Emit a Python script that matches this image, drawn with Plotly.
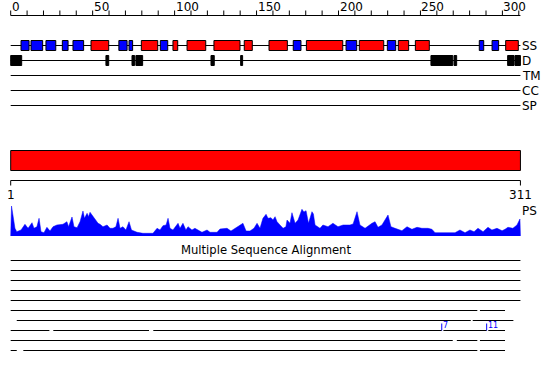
import plotly.graph_objects as go

# ---------------- data ----------------
SEQ_LEN = 311
axis_tick_pos = list(range(0, 311, 10))
axis_label_pos = [0, 50, 100, 150, 200, 250, 300]
axis_label_text = ["0", "50", "100", "150", "200", "250", "300"]

track_names = ["SS", "D", "TM", "CC", "SP"]

helix_start = [49, 79.7, 99, 107.6, 124, 142.5, 157.6, 180.4, 212.7, 236.5, 246.9, 302]
helix_end = [59.8, 89.7, 101.9, 119, 139.9, 147.4, 168.8, 202.6, 227.6, 242.8, 255.4, 309.7]
strand_start = [6.3, 12.4, 21.5, 31.5, 38, 66, 72.2, 91.3, 172.4, 204.6, 229.8, 285.9, 293.7]
strand_end = [11.2, 19.5, 27.5, 35, 44.5, 71, 74.4, 95.8, 177.1, 211.1, 234.9, 288.6, 297.7]

disorder_start = [0, 58.1, 74, 76.4, 122.2, 140.3, 256.4, 270.5, 303.2, 307.7]
disorder_end = [6.7, 59.8, 75.6, 80.5, 124.2, 141.5, 269.7, 272.1, 307.1, 311]

domain_start = [0]
domain_end = [311]
domain_labels = ["1", "311"]

ps_pos = [0, 0.5, 2.6, 3.7, 6.3, 8.7, 10.6, 13.0, 14.2, 16.0, 17.3, 18.5, 20.3, 22.1, 24.0,
          25.8, 28.2, 30.7, 31.9, 34.3, 35.3, 37.4, 38.6, 40.5, 42.3, 44.1, 45.0, 46.6, 47.5,
          48.4, 50.2, 51.4, 53.3, 54.5, 56.3, 58.8, 60.6, 62.4, 64.2, 65.5, 66.7, 68.5, 70.3,
          72.2, 73.7, 77.1, 80.7, 86.8, 89.3, 91.1, 92.9, 94.8, 96.0, 97.2, 99.0, 102.1, 103.3,
          105.1, 106.9, 108.2, 110.6, 112.4, 116.7, 119.8, 121.6, 125.9, 127.7, 132.0, 134.4,
          136.9, 139.9, 141.7, 143.6, 146.0, 148.4, 150.3, 152.1, 153.9, 155.8, 157.0, 158.8,
          160.0, 161.3, 162.5, 164.3, 166.2, 167.9, 168.6, 170.4, 171.6, 173.5, 175.3, 177.7,
          178.9, 180.2, 181.7, 183.8, 184.7, 185.7, 188.7, 190.5, 193.6, 196.6, 199.7, 202.8,
          204.0, 207.0, 208.9, 211.3, 213.1, 216.2, 220.4, 222.3, 224.1, 226.5, 230.2, 232.0,
          234.5, 238.7, 241.8, 244.8, 247.9, 250.9, 254.6, 257.0, 258.9, 263.1, 271.1, 274.1,
          277.2, 280.2, 282.7, 285.1, 288.2, 291.2, 293.6, 296.7, 299.8, 301.6, 303.4, 306.4,
          308.9, 310.7, 311]
ps_val = [0, 30, 7.7, 4.3, 6, 11.7, 7.7, 13.3, 7.7, 9.3, 17.7, 4.3, 3.3, 8.7, 5,
          9.3, 11, 11, 11.7, 14.3, 9.3, 19, 9.3, 8.3, 14.3, 25, 17.7, 22.7, 19.3,
          23.7, 20.3, 17, 12.7, 11.7, 9.3, 11, 7.7, 7.7, 9.3, 17.7, 7.7, 9.3, 6,
          14.3, 6, 3.7, 2.7, 2.7, 7.7, 6, 10.3, 11, 17.7, 7.7, 6, 12.7, 7.7,
          12.7, 6, 9.3, 6, 7.7, 3.7, 6, 3.7, 3.7, 7, 7.7, 5,
          7.7, 10.3, 12.7, 5, 5, 7.7, 12.7, 7.7, 17.7, 21.7, 17.7, 18.3,
          16, 19.3, 14.3, 11, 7.7, 9.3, 16, 12.7, 23.3, 12.7, 16, 26.7,
          24, 25.3, 12.7, 24.3, 22, 11, 7.7, 11, 9.3, 12.7, 9.3, 11,
          11, 11, 12, 24.3, 11, 7.7, 12.7, 14.3, 8.7, 11, 21, 9.3,
          7.7, 5.3, 9.3, 6.7, 8.7, 7.7, 7.7, 6.7, 3.3, 3.3, 3.3, 6,
          3.3, 6, 4.3, 7.7, 4.3, 8.7, 6, 7.7, 5.3, 6.7, 8.7, 7.7,
          11, 17, 0]

msa_title = "Multiple Sequence Alignment"
msa_segments = [
    [(0, 311)],
    [(0, 311)],
    [(0, 311)],
    [(0, 311)],
    [(0, 311)],
    [(0, 284.7), (286.3, 301.6)],
    [(3.7, 280.7), (281.9, 306.7)],
    [(0, 23.6), (26, 84.4), (87, 263), (264, 290.4), (291.4, 301.6)],
    [(0, 269.7), (272.2, 284.7), (286.3, 301.6)],
    [(0, 3.7), (7.7, 284.7), (286.3, 301.6)],
]
insert_row = [7, 7]
insert_pos = [263, 290.4]
insert_text = ["7", "11"]

# ---------------- layout constants (pixel rows) ----------------
RED = "#ff0000"
BLUE = "#0000ff"
FONT = "DejaVu Sans"
AXIS_Y = 15.5
TRACK_Y0 = 45.5
TRACK_STEP = 15
DOMAIN_Y = (150.5, 170.5)
RULER_Y = 180.5
MSA_Y0 = 260.5
MSA_STEP = 10
PX = 1.639
X0 = -10.7 / PX
X1 = X0 + 550 / PX

shapes = []
annotations = []

def hline(x0, x1, y, color="black", w=1):
    shapes.append(dict(type="line", xref="x", yref="y", x0=x0, x1=x1, y0=y, y1=y,
                       line=dict(color=color, width=w)))

def vline(x, y0, y1, color="black", w=1):
    shapes.append(dict(type="line", xref="x", yref="y", x0=x, x1=x, y0=y0, y1=y1,
                       line=dict(color=color, width=w)))

def rect(x0, x1, y0, y1, fill):
    shapes.append(dict(type="rect", xref="x", yref="y", x0=x0, x1=x1, y0=y0, y1=y1,
                       fillcolor=fill, line=dict(color="black", width=1)))

def text(x, y, s, size=12, xanchor="left", color="black"):
    annotations.append(dict(x=x, y=y, xref="x", yref="y", text=s, showarrow=False,
                            xanchor=xanchor, yanchor="middle",
                            font=dict(family=FONT, size=size, color=color),
                            borderpad=0))

# top ruler
hline(0, SEQ_LEN, AXIS_Y)
for t in axis_tick_pos:
    vline(t, AXIS_Y - 5, AXIS_Y)
for p, s in zip(axis_label_pos, axis_label_text):
    text(p, 7, s, 12, "left")

# tracks
for i, name in enumerate(track_names):
    y = TRACK_Y0 + i * TRACK_STEP
    hline(0, SEQ_LEN, y)
    text(SEQ_LEN + 0.3, y, name, 12, "left")

ss_y = TRACK_Y0
for a, b in zip(strand_start, strand_end):
    rect(a, b, ss_y - 5, ss_y + 5, BLUE)
for a, b in zip(helix_start, helix_end):
    rect(a, b, ss_y - 5, ss_y + 5, RED)
d_y = TRACK_Y0 + TRACK_STEP
for a, b in zip(disorder_start, disorder_end):
    rect(a, b, d_y - 5, d_y + 5, "black")

# domain bar + ruler
for a, b in zip(domain_start, domain_end):
    rect(a, b, DOMAIN_Y[0], DOMAIN_Y[1], RED)
hline(domain_start[0], domain_end[0], RULER_Y)
vline(domain_start[0], RULER_Y, RULER_Y + 5)
vline(domain_end[0], RULER_Y, RULER_Y + 5)
text(domain_start[0], 195, domain_labels[0], 12, "center")
text(domain_end[0], 195, domain_labels[1], 12, "center")
text(SEQ_LEN + 0.6, 211, "PS", 12, "left")

# MSA
text((0 + SEQ_LEN) / 2, 250, msa_title, 11.6, "center")
for i, segs in enumerate(msa_segments):
    y = MSA_Y0 + i * MSA_STEP
    for a, b in segs:
        hline(a, b, y)
for r, p, s in zip(insert_row, insert_pos, insert_text):
    y = MSA_Y0 + r * MSA_STEP
    vline(p, y - 7, y, BLUE)
    text(p + 0.4, y - 5.5, s, 8, "left", BLUE)

fig = go.Figure()
fig.add_trace(go.Scatter(x=ps_pos, y=ps_val, mode="lines", fill="tozeroy",
                         line=dict(color=BLUE, width=0.5), fillcolor=BLUE,
                         xaxis="x", yaxis="y2", hoverinfo="skip", showlegend=False))
# invisible anchor trace for the main y axis
fig.add_trace(go.Scatter(x=[0], y=[0], mode="markers", marker=dict(opacity=0),
                         xaxis="x", yaxis="y", hoverinfo="skip", showlegend=False))

fig.update_layout(
    width=550, height=380,
    margin=dict(l=0, r=0, t=0, b=0),
    paper_bgcolor="white", plot_bgcolor="white",
    showlegend=False,
    xaxis=dict(range=[X0, X1], domain=[0, 1], visible=False, fixedrange=True),
    yaxis=dict(range=[380, 0], domain=[0, 1], visible=False, fixedrange=True),
    yaxis2=dict(range=[0, 30], domain=[(380 - 236) / 380, (380 - 206) / 380],
                anchor="x", visible=False, fixedrange=True),
    shapes=shapes,
    annotations=annotations,
)

fig.write_html("out.html")
